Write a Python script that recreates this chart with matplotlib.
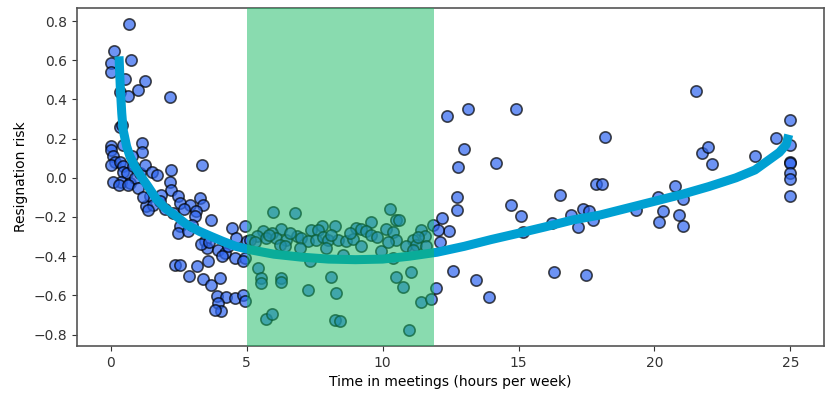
import matplotlib
matplotlib.use("Agg")
import matplotlib.pyplot as plt
import numpy as np

# scatter points: (hours in meetings, resignation risk)
left_x = [0.67, 0.11, 0.75, 0.0, 0.0, 0.51, 1.25, 0.98, 0.33, 0.64, 2.19, 0.33, 0.40,
          3.37, 2.23, 2.17, 0.0, 0.0, 0.09, 0.15, 0.02, 0.33, 0.45, 0.45, 0.58, 0.39,
          0.09, 0.70, 0.88, 1.07, 1.13, 1.13, 1.25, 1.50, 1.68, 0.45, 0.76, 0.82, 0.30,
          0.64, 2.23, 1.86, 1.43, 1.31, 1.56, 1.37, 2.47, 2.54, 2.29, 2.90, 3.27, 3.39,
          3.15, 3.09, 3.70, 2.54, 2.47, 2.84, 3.46, 3.52, 3.94, 4.19, 4.44, 4.93, 4.62,
          4.99, 4.56, 4.93, 4.86, 2.35, 2.54, 3.17, 3.58, 2.87, 3.39, 3.70, 4.00, 3.89,
          4.25, 4.56, 4.86, 3.94, 4.07, 3.82, 4.93, 1.00, 1.20, 1.80, 2.00, 2.70, 3.00,
          3.30, 3.60, 4.30, 4.10]
left_y = [0.786, 0.645, 0.60, 0.585, 0.54, 0.505, 0.495, 0.45, 0.44, 0.42, 0.41, 0.26, 0.27,
          0.066, 0.04, -0.02, 0.16, 0.143, 0.109, 0.083, 0.066, 0.083, 0.058, 0.032, 0.024, -0.019,
          -0.019, -0.027, -0.002, 0.024, 0.177, 0.134, 0.066, 0.029, 0.015, 0.168, 0.109, 0.058, -0.035,
          -0.036, -0.061, -0.087, -0.095, -0.146, -0.138, -0.163, -0.095, -0.129, -0.18, -0.138, -0.104, -0.138,
          -0.172, -0.197, -0.214, -0.248, -0.282, -0.274, -0.325, -0.359, -0.367, -0.384, -0.257, -0.248, -0.308,
          -0.325, -0.41, -0.41, -0.427, -0.444, -0.444, -0.452, -0.427, -0.503, -0.517, -0.546, -0.512, -0.605,
          -0.609, -0.614, -0.597, -0.64, -0.68, -0.673, -0.631, -0.05, -0.10, -0.12, -0.16, -0.16, -0.24,
          -0.34, -0.33, -0.35, -0.40]

mid_x = [5.97, 6.79, 10.26, 10.50, 9.58, 9.03, 9.22, 9.40, 8.24, 7.75, 7.38, 7.62, 6.27,
         5.60, 5.91, 5.36, 5.11, 5.72, 6.09, 6.46, 6.83, 7.01, 7.25, 7.56, 7.81, 7.99,
         8.36, 8.66, 8.91, 9.58, 10.14, 10.39, 10.50, 11.11, 11.42, 11.54, 11.85, 10.87,
         11.24, 11.61, 6.95, 6.21, 7.93, 9.95, 10.39, 8.54, 7.32, 5.42, 5.54, 5.54, 6.27,
         6.27, 8.11, 10.50, 11.05, 7.25, 8.30, 10.75, 11.42, 11.79, 5.72, 5.91, 8.24, 8.42,
         10.97, 10.60, 11.10, 5.30, 5.80, 6.60, 8.10, 8.80, 9.80, 10.20, 11.30, 6.40, 9.20]
mid_y = [-0.175, -0.18, -0.16, -0.214, -0.228, -0.257, -0.262, -0.274, -0.245, -0.248, -0.265, -0.269, -0.262,
         -0.274, -0.282, -0.299, -0.316, -0.308, -0.308, -0.316, -0.296, -0.308, -0.325, -0.316, -0.303, -0.316,
         -0.316, -0.325, -0.313, -0.291, -0.262, -0.279, -0.316, -0.316, -0.265, -0.296, -0.24, -0.35,
         -0.342, -0.35, -0.359, -0.342, -0.359, -0.376, -0.41, -0.393, -0.427, -0.461, -0.512, -0.537, -0.512,
         -0.534, -0.507, -0.507, -0.483, -0.571, -0.588, -0.56, -0.636, -0.619, -0.721, -0.694, -0.724, -0.733,
         -0.776, -0.214, -0.367, -0.33, -0.29, -0.28, -0.29, -0.28, -0.30, -0.33, -0.30, -0.35, -0.35]

right_x = [12.37, 13.14, 14.91, 21.53, 25.0, 24.47, 25.0, 18.19, 12.98, 12.77, 14.18, 21.75,
           21.96, 22.12, 23.70, 25.0, 25.0, 25.0, 25.0, 25.0, 17.86, 18.08, 20.74, 20.12,
           21.04, 12.75, 12.75, 16.54, 14.71, 15.10, 16.94, 17.36, 17.61, 17.73, 17.18, 16.24,
           15.16, 19.32, 20.30, 20.89, 20.18, 21.04, 12.18, 12.44, 12.10, 12.03, 12.59, 13.44,
           13.91, 16.30, 17.49, 11.97]
right_y = [0.318, 0.352, 0.35, 0.444, 0.296, 0.202, 0.168, 0.207, 0.148, 0.055, 0.075, 0.129,
           0.155, 0.07, 0.112, 0.083, 0.075, 0.024, -0.007, -0.092, -0.032, -0.031, -0.044, -0.10,
           -0.107, -0.099, -0.163, -0.087, -0.141, -0.197, -0.189, -0.16, -0.168, -0.214, -0.253, -0.231,
           -0.279, -0.163, -0.172, -0.192, -0.228, -0.248, -0.206, -0.274, -0.33, -0.265, -0.478, -0.524,
           -0.609, -0.481, -0.498, -0.563]

# fitted trend line
fit_x = [0.30, 0.35, 0.40, 0.45, 0.58, 0.70, 0.88, 1.07, 1.37, 1.68, 2.0, 2.41, 2.8, 3.27,
         3.7, 4.13, 4.6, 5.11, 6.0, 7.0, 8.0, 9.0, 10.0, 11.0, 12.0, 13.0, 14.0, 15.0,
         16.0, 17.0, 18.0, 19.0, 20.0, 21.0, 22.0, 23.0, 23.7, 24.2, 24.6, 24.85, 24.94]
fit_y = [0.62, 0.45, 0.33, 0.245, 0.16, 0.11, 0.058, 0.015, -0.045, -0.11, -0.155, -0.197, -0.24, -0.274,
         -0.30, -0.325, -0.35, -0.367, -0.39, -0.405, -0.415, -0.418, -0.415, -0.40, -0.38, -0.35, -0.315, -0.283,
         -0.25, -0.215, -0.19, -0.155, -0.12, -0.085, -0.045, 0.0, 0.04, 0.09, 0.13, 0.17, 0.22]

span_start, span_end = 5.0, 11.9

x = np.array(left_x + mid_x + right_x)
y = np.array(left_y + mid_y + right_y)

fig = plt.figure(figsize=(8.36, 3.98), dpi=100)
ax = fig.add_axes([0.092, 0.131, 0.894, 0.849])

ax.scatter(x, y, s=66, color='#2f66f0', alpha=0.7, edgecolors='black', linewidths=1.2, zorder=2)
ax.plot(fit_x, fit_y, color='#00a0d2', lw=6.5, solid_capstyle='butt', solid_joinstyle='round', zorder=3)
# green band sits on top of the points, like in the original
ax.axvspan(span_start, span_end, color='#15b961', alpha=0.5, lw=0, zorder=4)

ax.set_xticks([0, 5, 10, 15, 20, 25])
ax.set_yticks([-0.8, -0.6, -0.4, -0.2, 0.0, 0.2, 0.4, 0.6, 0.8])
ax.set_xlim(-1.25, 26.25)
ax.set_ylim(-0.858, 0.867)
ax.set_xlabel('Time in meetings (hours per week)', fontsize=10)
ax.set_ylabel('Resignation risk', fontsize=10)
ax.tick_params(labelsize=10, colors='#333333')
for s in ax.spines.values():
    s.set_color('#555555')
    s.set_linewidth(1.2)

fig.savefig('out.png', dpi=100)
